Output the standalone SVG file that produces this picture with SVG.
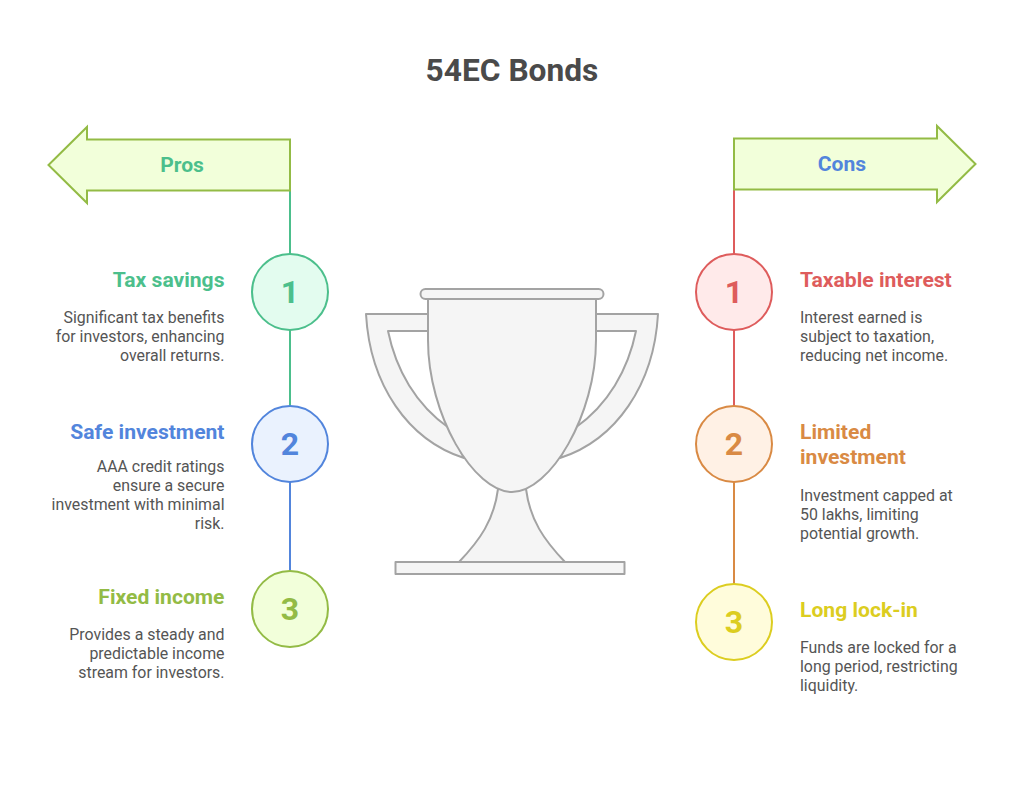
<svg xmlns="http://www.w3.org/2000/svg" width="1024" height="787" viewBox="0 0 1024 787">
<style>
text{font-family:Roboto,"Liberation Sans",sans-serif}
.title{font-size:31.700px;font-weight:700;fill:#4a4a4a;text-anchor:middle}
.h{font-size:21.100px;font-weight:700}
.b{font-size:15.900px;fill:#555}
.e{text-anchor:end}
.n{font-size:32px;font-weight:700;text-anchor:middle}
.ar{fill:#f2ffda;stroke:#93bb45;stroke-width:2}
.tr{fill:#f5f5f5;stroke:#a3a3a3;stroke-width:2;stroke-linejoin:round}
.c{fill:none;stroke-width:2}
.c1{stroke:#4cbf8c}.c2{stroke:#5285dc}.c3{stroke:#93bb45}.c4{stroke:#de5c5c}.c5{stroke:#d98a44}.c6{stroke:#dccd20}
.f1{fill:#4cbf8c}.f2{fill:#5285dc}.f3{fill:#93bb45}.f4{fill:#de5c5c}.f5{fill:#d98a44}.f6{fill:#dccd20}
</style>
<rect width="1024" height="787" fill="#fff"/>
<text class="title" x="512" y="81">54EC Bonds</text>
<g id="connectors">
<path class="c c1" d="M290 190V254M290 330V406"/>
<path class="c c2" d="M290 482V571"/>
<path class="c c4" d="M734 189V254M734 330V406"/>
<path class="c c5" d="M734 482V584"/>
</g>
<g id="trophy">
<path class="tr" d="M366 314H430V331H388C396 370 416 405 449 428L464 458C408 440 370 385 366 314Z"/>
<path class="tr" d="M658 314H594V331H636C628 370 608 405 575 428L560 458C616 440 654 385 658 314Z"/>
<path class="tr" d="M498 489C494 520 480 540 459 562H565C544 540 530 520 526 489Z"/>
<rect class="tr" x="395.500" y="562" width="229" height="12"/>
<path class="tr" d="M428 298V340C428 415 474 492 512 492C550 492 596 415 596 340V298Z"/>
<rect class="tr" x="420.500" y="289" width="183" height="10" rx="5"/>
</g>
<g id="pros-arrow">
<path class="ar" d="M290 139.500V190.500H87V203L48.500 165L87 127V139.500Z"/>
<text class="h f1" x="182" y="172" text-anchor="middle">Pros</text>
</g>
<g id="cons-arrow">
<path class="ar" d="M734 138.500V189.500H937V202L975.500 164L937 126V138.500Z"/>
<text class="h f2" x="842" y="171" text-anchor="middle">Cons</text>
</g>
<g id="pro1">
<circle class="c1" cx="290" cy="292" r="38" fill="#e3fcef" stroke-width="2"/>
<text class="n f1" x="290" y="303">1</text>
<text class="h f1 e" x="224.500" y="286.500">Tax savings</text>
<text class="b e" x="224.500" y="323">Significant tax benefits</text>
<text class="b e" x="224.500" y="342">for investors, enhancing</text>
<text class="b e" x="224.500" y="361">overall returns.</text>
</g>
<g id="pro2">
<circle class="c2" cx="290" cy="444" r="38" fill="#eaf2fe" stroke-width="2"/>
<text class="n f2" x="290" y="455">2</text>
<text class="h f2 e" x="224.500" y="438.500">Safe investment</text>
<text class="b e" x="224.500" y="472">AAA credit ratings</text>
<text class="b e" x="224.500" y="491">ensure a secure</text>
<text class="b e" x="224.500" y="510">investment with minimal</text>
<text class="b e" x="224.500" y="529">risk.</text>
</g>
<g id="pro3">
<circle class="c3" cx="290" cy="609" r="38" fill="#f2ffda" stroke-width="2"/>
<text class="n f3" x="290" y="620">3</text>
<text class="h f3 e" x="224.500" y="603.500">Fixed income</text>
<text class="b e" x="224.500" y="640">Provides a steady and</text>
<text class="b e" x="224.500" y="659">predictable income</text>
<text class="b e" x="224.500" y="678">stream for investors.</text>
</g>
<g id="con1">
<circle class="c4" cx="734" cy="292" r="38" fill="#ffeaea" stroke-width="2"/>
<text class="n f4" x="734" y="303">1</text>
<text class="h f4" x="800" y="286.500">Taxable interest</text>
<text class="b" x="800" y="323">Interest earned is</text>
<text class="b" x="800" y="342">subject to taxation,</text>
<text class="b" x="800" y="361">reducing net income.</text>
</g>
<g id="con2">
<circle class="c5" cx="734" cy="444" r="38" fill="#fff1e5" stroke-width="2"/>
<text class="n f5" x="734" y="455">2</text>
<text class="h f5" x="800" y="438.500">Limited</text>
<text class="h f5" x="800" y="464">investment</text>
<text class="b" x="800" y="501">Investment capped at</text>
<text class="b" x="800" y="520">50 lakhs, limiting</text>
<text class="b" x="800" y="539">potential growth.</text>
</g>
<g id="con3">
<circle class="c6" cx="734" cy="622" r="38" fill="#fffcdb" stroke-width="2"/>
<text class="n f6" x="734" y="633">3</text>
<text class="h f6" x="800" y="616.500">Long lock-in</text>
<text class="b" x="800" y="653">Funds are locked for a</text>
<text class="b" x="800" y="672">long period, restricting</text>
<text class="b" x="800" y="691">liquidity.</text>
</g>
</svg>
